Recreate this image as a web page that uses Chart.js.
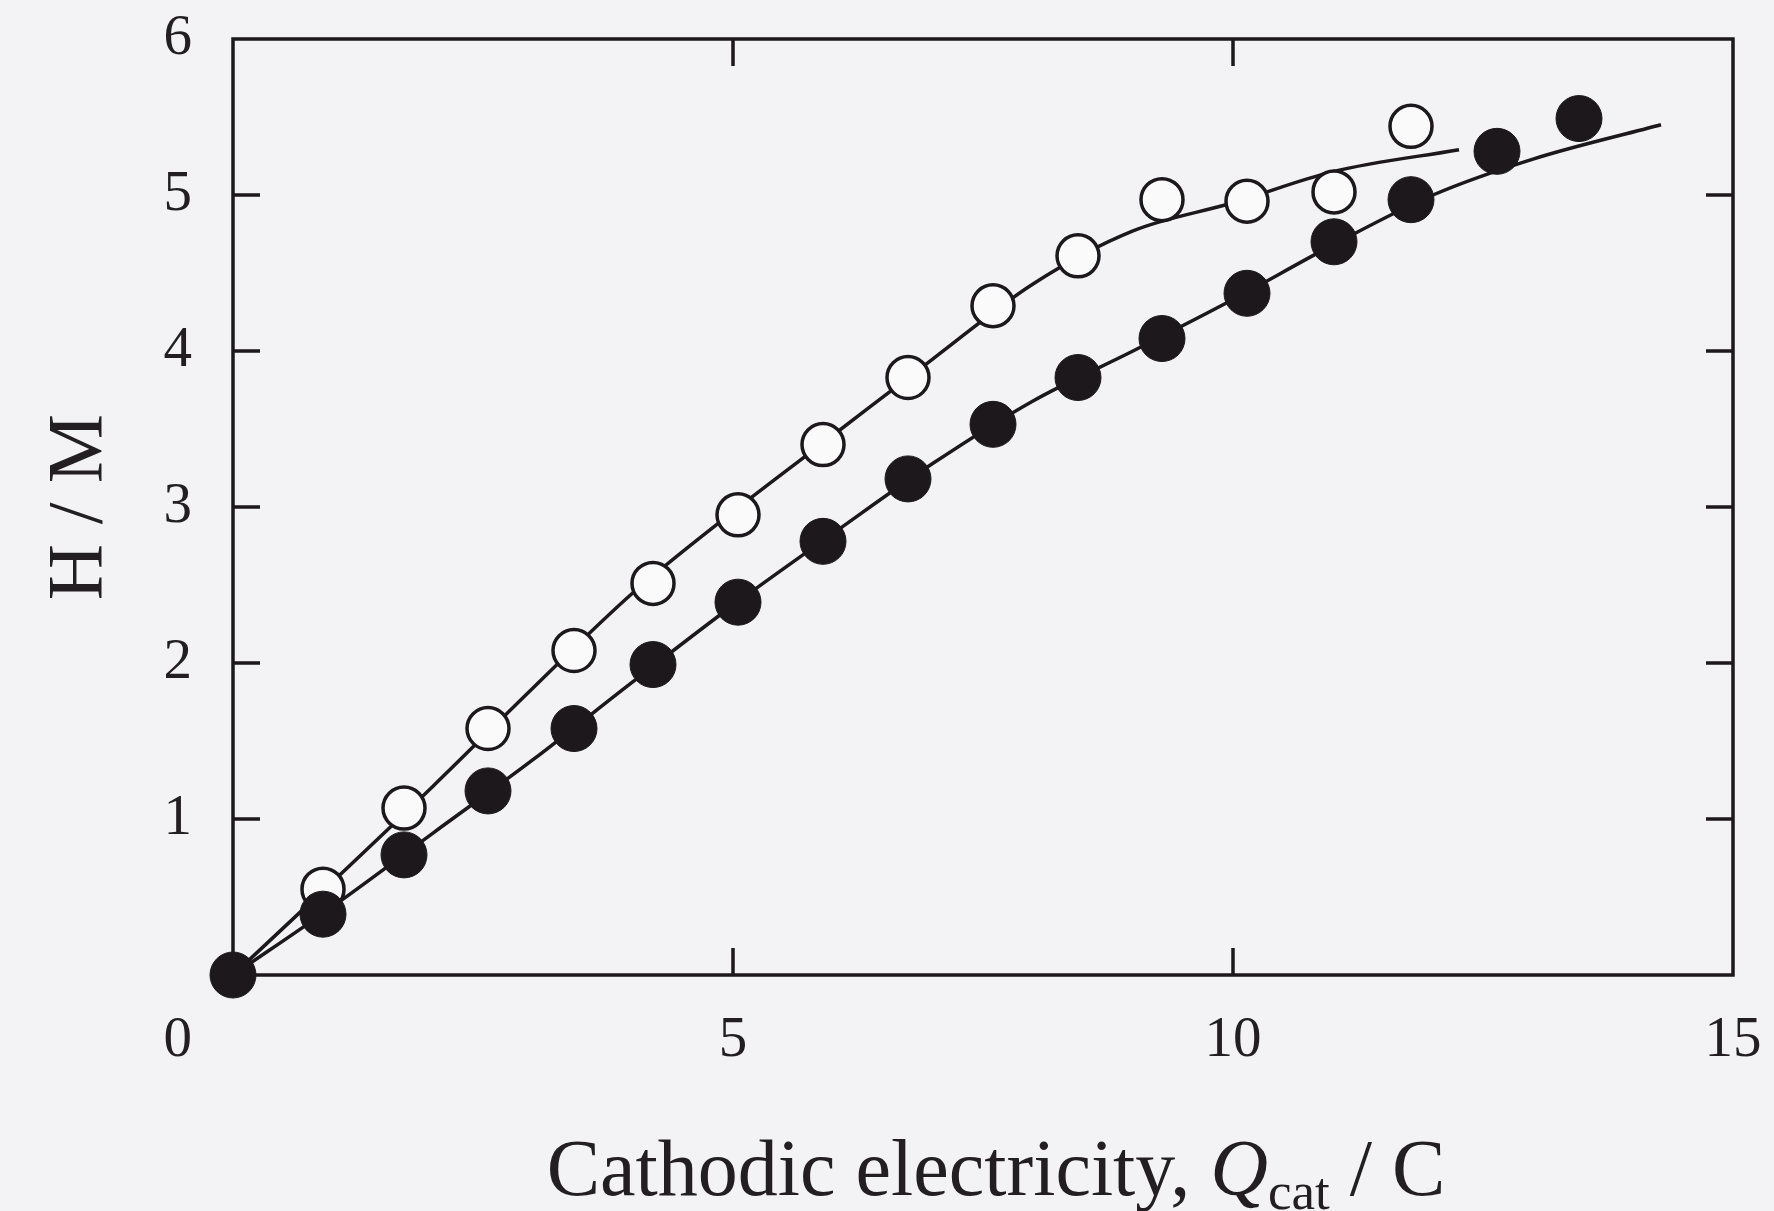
<!DOCTYPE html>
<html>
<head>
<meta charset="utf-8">
<script src="https://cdn.jsdelivr.net/npm/chart.js@4.4.1/dist/chart.umd.min.js"></script>
<style>
  html, body { margin: 0; padding: 0; background: #f3f3f5; }
  #wrap { width: 1774px; height: 1211px; }
</style>
</head>
<body>
<div id="wrap"><canvas id="myChart"></canvas></div>
<script>
const filledX = [0.00, 0.90, 1.71, 2.55, 3.41, 4.20, 5.05, 5.90, 6.75, 7.60, 8.45, 9.29, 10.14, 11.01, 11.78, 12.64, 13.46];
const filledY = [0.00, 0.39, 0.77, 1.18, 1.58, 1.99, 2.39, 2.78, 3.18, 3.53, 3.83, 4.08, 4.37, 4.70, 4.97, 5.28, 5.49];
const openX = [0.90, 1.71, 2.55, 3.41, 4.20, 5.05, 5.90, 6.75, 7.60, 8.45, 9.29, 10.14, 11.01, 11.78];
const openY = [0.55, 1.07, 1.58, 2.08, 2.51, 2.95, 3.40, 3.83, 4.29, 4.61, 4.97, 4.96, 5.02, 5.44];

// smooth fitted curves
const fitOpenX = [0, 1, 2, 3, 4, 5, 6, 7, 8, 9, 10, 11, 12.26];
const fitOpenY = [0, 0.60, 1.21, 1.84, 2.45, 2.97, 3.46, 3.95, 4.43, 4.77, 4.95, 5.15, 5.29];
const fitFilledX = [0, 1, 2, 3, 4, 5, 6, 7, 8, 9, 10, 11, 12, 13, 14.28];
const fitFilledY = [0, 0.44, 0.91, 1.38, 1.88, 2.37, 2.83, 3.28, 3.68, 4.00, 4.33, 4.68, 5.00, 5.23, 5.45];

const xTicks = [0, 5, 10, 15];
const yTicks = [0, 1, 2, 3, 4, 5, 6];

const ink = '#1c181c';
const textInk = '#221e22';
const serif = '"Liberation Serif", "DejaVu Serif", serif';

function pts(xs, ys) {
    return xs.map((x, i) => ({ x: x, y: ys[i] }));
}

// box frame with inward ticks on all four sides, plus the x title and corner 0
const framePlugin = {
    id: 'frame',
    beforeDatasetsDraw(chart) {
        const { ctx, chartArea: a, scales: { x, y } } = chart;
        const len = 27;
        ctx.save();
        ctx.strokeStyle = ink;
        ctx.lineWidth = 3.5;
        ctx.strokeRect(a.left, a.top, a.right - a.left, a.bottom - a.top);
        ctx.beginPath();
        xTicks.slice(1, -1).forEach(v => {
            const p = x.getPixelForValue(v);
            ctx.moveTo(p, a.bottom); ctx.lineTo(p, a.bottom - len);
            ctx.moveTo(p, a.top); ctx.lineTo(p, a.top + len);
        });
        yTicks.slice(1, -1).forEach(v => {
            const p = y.getPixelForValue(v);
            ctx.moveTo(a.left, p); ctx.lineTo(a.left + len, p);
            ctx.moveTo(a.right, p); ctx.lineTo(a.right - len, p);
        });
        ctx.stroke();
        ctx.restore();
    },
    afterDraw(chart) {
        const { ctx, chartArea: a } = chart;
        ctx.save();
        ctx.fillStyle = textInk;
        // shared corner zero
        ctx.font = '57px ' + serif;
        ctx.textAlign = 'right';
        ctx.textBaseline = 'middle';
        ctx.fillText('0', a.left - 41, a.bottom + 66);

        // x title with italic Q and subscript
        const parts = [
            { t: 'Cathodic electricity, ', f: '80px ' + serif, dy: 0 },
            { t: 'Q', f: 'italic 80px ' + serif, dy: 0 },
            { t: 'cat', f: '53px ' + serif, dy: 14 },
            { t: ' / C', f: '80px ' + serif, dy: 0 }
        ];
        let total = 0;
        parts.forEach(p => { ctx.font = p.f; p.w = ctx.measureText(p.t).width; total += p.w; });
        let cx = (a.left + a.right) / 2 + 13 - total / 2;
        const base = 1195;
        ctx.textAlign = 'left';
        ctx.textBaseline = 'alphabetic';
        parts.forEach(p => {
            ctx.font = p.f;
            ctx.fillText(p.t, cx, base + p.dy);
            cx += p.w;
        });
        ctx.restore();
    }
};

const ctx = document.getElementById('myChart').getContext('2d');
new Chart(ctx, {
    type: 'scatter',
    data: {
        datasets: [
            {
                label: 'filled',
                data: pts(filledX, filledY),
                pointRadius: 23,
                pointBackgroundColor: ink,
                pointBorderColor: ink,
                pointBorderWidth: 1,
                showLine: false,
                clip: false
            },
            {
                label: 'open',
                data: pts(openX, openY),
                pointRadius: 21,
                pointBackgroundColor: '#fafafb',
                pointBorderColor: ink,
                pointBorderWidth: 3.5,
                showLine: false,
                clip: false
            },
            {
                label: 'fit open',
                data: pts(fitOpenX, fitOpenY),
                showLine: true,
                pointRadius: 0,
                borderColor: ink,
                borderWidth: 3.5,
                cubicInterpolationMode: 'monotone'
            },
            {
                label: 'fit filled',
                data: pts(fitFilledX, fitFilledY),
                showLine: true,
                pointRadius: 0,
                borderColor: ink,
                borderWidth: 3.5,
                cubicInterpolationMode: 'monotone'
            }
        ]
    },
    options: {
        responsive: true,
        maintainAspectRatio: false,
        animation: false,
        events: [],
        layout: {
            padding: { left: 0, right: 41, top: 39, bottom: 0 }
        },
        scales: {
            x: {
                type: 'linear',
                min: 0,
                max: 15,
                afterBuildTicks: s => { s.ticks = xTicks.map(v => ({ value: v })); },
                afterFit: s => { s.height = 236; s.paddingLeft = 0; s.paddingRight = 0; },
                grid: { display: false, drawTicks: false },
                border: { display: false },
                ticks: {
                    padding: 32,
                    color: textInk,
                    font: { family: serif, size: 57, lineHeight: 1.2 },
                    maxRotation: 0,
                    callback: v => (v === 0 ? '' : String(v))
                }
            },
            y: {
                type: 'linear',
                min: 0,
                max: 6,
                afterBuildTicks: s => { s.ticks = yTicks.map(v => ({ value: v })); },
                afterFit: s => { s.width = 233; s.paddingTop = 0; s.paddingBottom = 0; },
                grid: { display: false, drawTicks: false },
                border: { display: false },
                ticks: {
                    padding: 41,
                    color: textInk,
                    font: { family: serif, size: 57, lineHeight: 1.2 },
                    callback: v => (v === 0 ? '' : String(v))
                },
                title: {
                    display: true,
                    text: 'H / M',
                    color: textInk,
                    font: { family: serif, size: 78, lineHeight: 1.2 },
                    padding: { top: 34, bottom: 0 }
                }
            }
        },
        plugins: {
            legend: { display: false },
            tooltip: { enabled: false }
        }
    },
    plugins: [framePlugin]
});
</script>
</body>
</html>
